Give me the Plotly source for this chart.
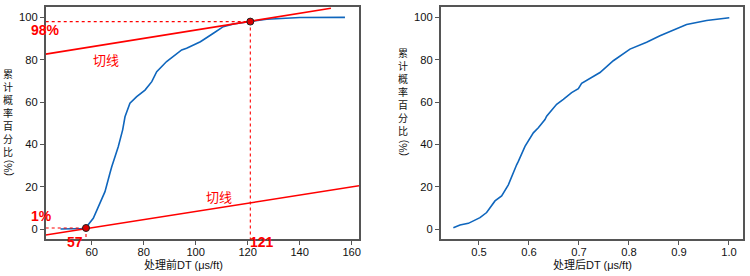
import plotly.graph_objects as go

# ---- data ----
before_dt = [48, 52, 55, 57.5, 60.6, 63.2, 65.1, 67.0, 67.7, 70.2, 71.9, 72.8, 74.7, 77.3, 80.5,
             83.1, 85.0, 88.8, 94.6, 96.5, 101.8, 106.8, 110.6, 114.5, 120.9, 127.3, 140.1, 157.4]
before_cum = [0, 0, 0, 0.3, 5.1, 12.2, 17.7, 26.4, 29.5, 38.9, 46.9, 53.1, 59.5, 62.6, 65.7,
              69.7, 74.4, 79.2, 84.7, 85.5, 88.6, 92.6, 95.7, 97.0, 98.1, 99.2, 100.0, 100.1]

after_dt = [0.4487, 0.462, 0.4787, 0.502, 0.5153, 0.532, 0.5453, 0.5587, 0.5753, 0.5787, 0.592,
            0.6087, 0.6187, 0.632, 0.6353, 0.6553, 0.6687, 0.6853, 0.6987, 0.7053, 0.742, 0.7687,
            0.802, 0.8353, 0.862, 0.9153, 0.9553, 1.0007]
after_cum = [0.6, 1.9, 2.7, 5.4, 7.8, 13.3, 15.7, 20.9, 30.4, 32.0, 39.1, 45.5, 47.9, 51.8, 53.4,
             59.0, 61.3, 64.5, 66.4, 68.9, 74.0, 79.6, 85.1, 88.3, 91.4, 96.7, 98.6, 99.9]

upper_tangent_x = [42.3, 152.0]
upper_tangent_y = [82.7, 104.4]
lower_tangent_x = [42.3, 162.8]
lower_tangent_y = [-2.84, 20.5]

key_x = [57.8, 121.0]
key_y = [0.5, 98.1]
key_x_labels = ["57", "121"]
key_y_labels = ["1%", "98%"]

x1_range = [42.3, 162.8]
x2_range = [0.4234, 1.0287]
y_range = [-4.7, 105.0]

x1_ticks = [60, 80, 100, 120, 140, 160]
x2_ticks = [0.5, 0.6, 0.7, 0.8, 0.9, 1.0]
x2_ticktext = ["0.5", "0.6", "0.7", "0.8", "0.9", "1.0"]
y_ticks = [0, 20, 40, 60, 80, 100]

W, H = 750, 276
FONT = "Arial, 'Liberation Sans', 'Noto Sans CJK SC', sans-serif"
CJK = "'Noto Sans CJK SC', Arial, sans-serif"
BLUE = "#0f66bd"
RED = "#ff0000"
FRAME = "#555555"

fig = go.Figure()

# curves
fig.add_trace(go.Scatter(x=before_dt, y=before_cum, mode="lines",
                         line=dict(color=BLUE, width=1.6), xaxis="x", yaxis="y"))
fig.add_trace(go.Scatter(x=after_dt, y=after_cum, mode="lines",
                         line=dict(color=BLUE, width=1.6), xaxis="x2", yaxis="y2"))

# tangents
fig.add_trace(go.Scatter(x=upper_tangent_x, y=upper_tangent_y, mode="lines",
                         line=dict(color=RED, width=1.6), xaxis="x", yaxis="y"))
fig.add_trace(go.Scatter(x=lower_tangent_x, y=lower_tangent_y, mode="lines",
                         line=dict(color=RED, width=1.6), xaxis="x", yaxis="y"))

# dashed guides
for kx, ky in zip(key_x, key_y):
    fig.add_trace(go.Scatter(x=[x1_range[0], kx], y=[ky, ky], mode="lines",
                             line=dict(color=RED, width=1.1, dash="3px,3px"), xaxis="x", yaxis="y"))
    fig.add_trace(go.Scatter(x=[kx, kx], y=[ky, y_range[0]], mode="lines",
                             line=dict(color=RED, width=1.1, dash="3px,3px"), xaxis="x", yaxis="y"))

# key points
fig.add_trace(go.Scatter(x=key_x, y=key_y, mode="markers",
                         marker=dict(color="#dd0000", size=7, line=dict(color="#222222", width=1)),
                         xaxis="x", yaxis="y"))

def px2fx(px):
    return px / W

def py2fy(py):
    return (H - py) / H

axis_common = dict(showline=True, mirror=True, linecolor=FRAME, linewidth=1.6,
                   ticks="outside", ticklen=4, tickcolor=FRAME, tickwidth=1.2,
                   showgrid=False, zeroline=False,
                   tickfont=dict(family=FONT, size=11.2, color="#111111"))

fig.update_layout(
    width=W, height=H, margin=dict(l=0, r=0, t=0, b=0, autoexpand=False),
    paper_bgcolor="white", plot_bgcolor="white", showlegend=False,
    xaxis=dict(domain=[px2fx(45.7), px2fx(359)], range=x1_range, tickvals=x1_ticks,
               anchor="y", ticklabelstandoff=-2, **axis_common),
    yaxis=dict(domain=[py2fy(239), py2fy(7)], range=y_range, tickvals=y_ticks,
               anchor="x", **axis_common),
    xaxis2=dict(domain=[px2fx(440.7), px2fx(743.3)], range=x2_range, tickvals=x2_ticks,
                ticktext=x2_ticktext, anchor="y2", ticklabelstandoff=-2, **axis_common),
    yaxis2=dict(domain=[py2fy(239), py2fy(7)], range=y_range, tickvals=y_ticks,
                anchor="x2", **axis_common),
)

ann = []

def add_text(text, px, py, size=11.5, color="#111111", family=FONT, angle=0, bold=False):
    t = f"<b>{text}</b>" if bold else text
    ann.append(dict(text=t, x=px2fx(px), y=py2fy(py), xref="paper", yref="paper",
                    showarrow=False, xanchor="center", yanchor="middle", textangle=angle,
                    borderpad=0, font=dict(family=family, size=size, color=color)))

# x axis titles
add_text("处理前DT (μs/ft)", 183, 264.5, size=11, family=FONT)
add_text("处理后DT (μs/ft)", 592, 264.5, size=11, family=FONT)

# vertical y titles (stacked characters + rotated unit)
stacked = "<br>".join(list("累计概率百分比"))
for cx, cy, pct_y in [(8, 113, 168), (403, 92.5, 148)]:
    add_text(stacked, cx, cy, size=10, family=FONT, color="#111111")
    add_text("(%)", cx, pct_y, size=10.5, angle=-90, family=FONT, color="#111111")

# red labels
add_text(key_y_labels[1], 45, 29.5, size=14, color=RED, bold=True)
add_text(key_y_labels[0], 41, 216, size=14, color=RED, bold=True)
add_text(key_x_labels[0], 74.5, 241.5, size=14, color=RED, bold=True)
add_text(key_x_labels[1], 261.5, 241.5, size=14, color=RED, bold=True)
add_text("切线", 106, 60, size=13, color=RED, family=CJK)
add_text("切线", 218.5, 196, size=13, color=RED, family=CJK)

fig.update_layout(annotations=ann)

fig.write_html("out.html", config={"displayModeBar": False},
               post_script="document.body.style.margin='0';document.body.style.overflow='hidden';")
